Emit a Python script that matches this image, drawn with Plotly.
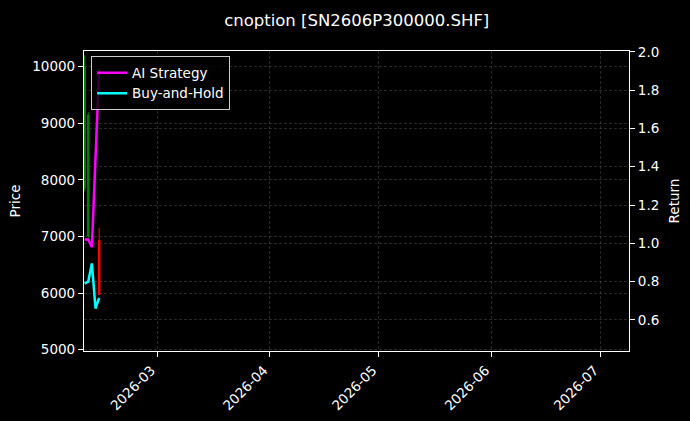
import plotly.graph_objects as go

# Data
dates = ["2026-02-09", "2026-02-10", "2026-02-11", "2026-02-12", "2026-02-13"]
ai_return = [1.02, 1.02, 0.98, 1.45, 1.91]
bh_return = [0.79, 0.80, 0.895, 0.66, 0.715]

candle_dates = ["2026-02-09", "2026-02-10", "2026-02-13"]
candle_open = [7850, 7000, 6937]
candle_high = [10200, 9200, 7148]
candle_low = [7800, 6940, 5968]
candle_close = [10000, 9150, 5968]

font = "DejaVu Sans, Verdana, sans-serif"
grid_color = "rgba(128,128,128,0.32)"


def segments(up):
    # vertical segments (wick and body) for rising or falling candles
    wx, wy, bx, by = [], [], [], []
    for d, o, h, l, c in zip(candle_dates, candle_open, candle_high, candle_low, candle_close):
        if (c >= o) != up:
            continue
        wx += [d, d, None]
        wy += [l, h, None]
        bx += [d, d, None]
        by += [o, c, None]
    return wx, wy, bx, by


fig = go.Figure()

for up, color in [(True, "green"), (False, "red")]:
    wx, wy, bx, by = segments(up)
    fig.add_trace(go.Scatter(x=wx, y=wy, mode="lines", line=dict(color=color, width=1),
                             showlegend=False, hoverinfo="skip", yaxis="y"))
    fig.add_trace(go.Scatter(x=bx, y=by, mode="lines", line=dict(color=color, width=2.6),
                             showlegend=False, hoverinfo="skip", yaxis="y"))

fig.add_trace(go.Scatter(
    x=dates, y=ai_return, mode="lines", name="AI Strategy",
    line=dict(color="#ff00ff", width=2.5), yaxis="y2",
))
fig.add_trace(go.Scatter(
    x=dates, y=bh_return, mode="lines", name="Buy-and-Hold",
    line=dict(color="#00ffff", width=2.5), yaxis="y2",
))

axis_common = dict(
    ticks="outside", ticklen=5, tickcolor="white", tickfont=dict(size=13.5),
    showline=True, linecolor="white", linewidth=1.2,
    showgrid=True, gridcolor=grid_color, griddash="3px,2px", gridwidth=0.7,
    zeroline=False, automargin=False,
)

fig.update_layout(
    width=690, height=421,
    paper_bgcolor="black", plot_bgcolor="black",
    font=dict(family=font, size=13.5, color="white"),
    margin=dict(l=84, r=61, t=51, b=70),
    title=dict(text="cnoption [SN2606P300000.SHF]", x=0.517, xanchor="center",
               y=0.952, yanchor="middle", font=dict(size=16.5, color="white")),
    xaxis=dict(
        type="date", range=["2026-02-08 20:00", "2026-07-08 20:00"],
        tickvals=["2026-03-01", "2026-04-01", "2026-05-01", "2026-06-01", "2026-07-01"],
        ticktext=["2026-03", "2026-04", "2026-05", "2026-06", "2026-07"],
        tickangle=-45, ticklabelshift=-6, mirror=True, **axis_common,
    ),
    yaxis=dict(
        title=dict(text="Price", standoff=8, font=dict(size=13.5)), range=[4977, 10277],
        tickvals=[5000, 6000, 7000, 8000, 9000, 10000],
        ticktext=["5000", "6000", "7000", "8000", "9000", "10000"],
        **axis_common,
    ),
    yaxis2=dict(
        title=dict(text="Return", standoff=11, font=dict(size=13.5)), range=[0.438, 2.004],
        overlaying="y", side="right",
        tickvals=[0.6, 0.8, 1.0, 1.2, 1.4, 1.6, 1.8, 2.0],
        ticktext=["0.6", "0.8", "1.0", "1.2", "1.4", "1.6", "1.8", "2.0"],
        **axis_common,
    ),
    legend=dict(
        x=0.013, y=0.982, xanchor="left", yanchor="top",
        bgcolor="rgba(0,0,0,0.8)", bordercolor="#cccccc", borderwidth=1,
        font=dict(size=13.5, color="white"),
    ),
)

fig.write_html("out.html", config={"displayModeBar": False},
               post_script="document.body.style.margin='0';document.body.style.overflow='hidden';")
